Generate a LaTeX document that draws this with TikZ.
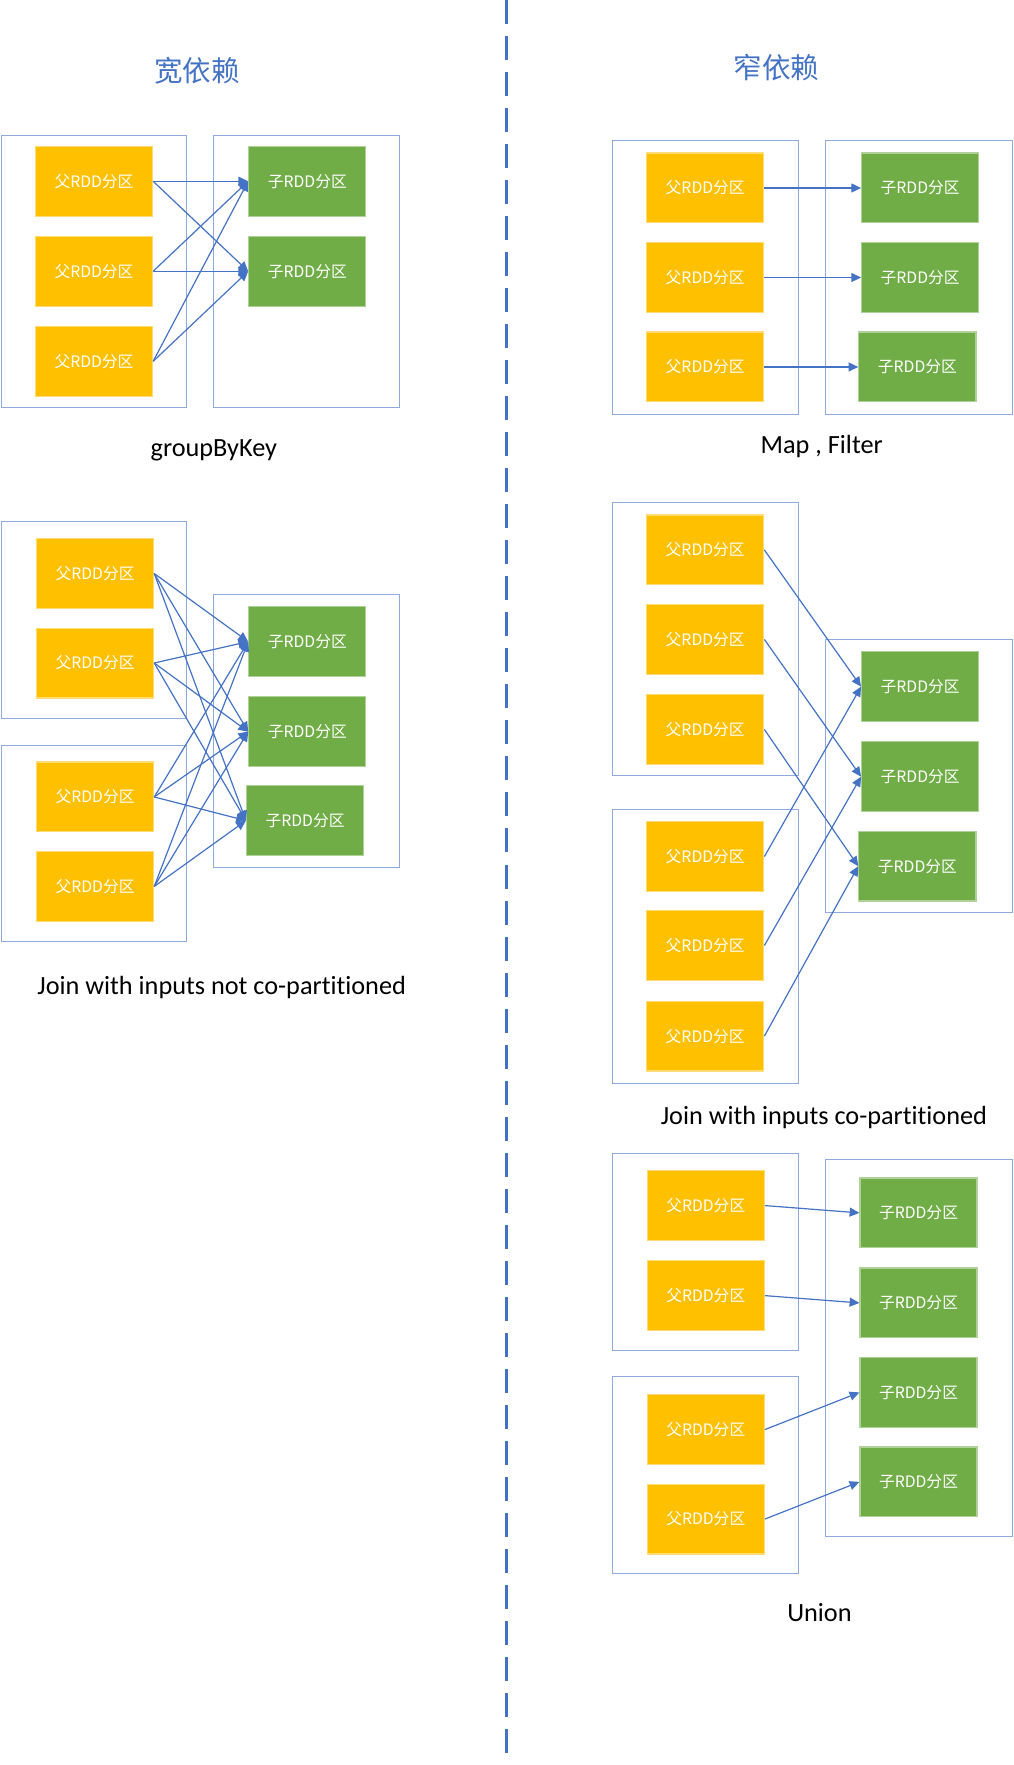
\documentclass[tikz,border=0pt]{standalone}
\usepackage{fontspec}
\setmainfont{Carlito}[Ligatures=NoCommon]
\newfontfamily\cjk{Noto Sans CJK SC}
\usetikzlibrary{arrows.meta}
\definecolor{parfill}{HTML}{FFC000}
\definecolor{kidfill}{HTML}{70AD47}
\definecolor{linkblue}{HTML}{4472C4}
\definecolor{frameblue}{HTML}{8FAADC}
\begin{document}
\begin{tikzpicture}[x=0.75pt,y=-0.75pt,
	par/.style={fill=parfill,draw=parfill!55!white,line width=0.8pt,minimum width=78pt,minimum height=46.5pt,inner sep=0pt,text=white,font=\cjk\fontsize{10.5}{12}\selectfont},
	kid/.style={par,fill=kidfill,draw=kidfill!55!white},
	frame/.style={draw=frameblue,line width=0.6pt},
	arr/.style={draw=linkblue,line width=0.8pt,-{Triangle[length=6.5pt,width=6pt]}},
	caption/.style={font=\fontsize{17.5}{20}\selectfont},
	title/.style={text=linkblue,font=\cjk\fontsize{19}{22}\selectfont}]
	\useasboundingbox (0,0) rectangle (900,1568);
	\draw[linkblue,line width=1.5pt,dash pattern=on 16pt off 8pt] (450,0) -- (450,1568);
	\node[title] (wide) at (175,63) {宽依赖};
	\node[title] (narrow) at (690,60) {窄依赖};
	% groupByKey
		\draw[frame] (1,120) rectangle (166,362);
		\draw[frame] (190,120) rectangle (355,362);
		\node[par] (a1) at (83.5,161) {父RDD分区};
		\node[par] (a2) at (83.5,241) {父RDD分区};
		\node[par] (a3) at (83.5,321) {父RDD分区};
		\node[kid] (b1) at (273,161) {子RDD分区};
		\node[kid] (b2) at (273,241) {子RDD分区};
		\draw[arr] (a1.east) -- (b1.west);
		\draw[arr] (a1.east) -- (b2.west);
		\draw[arr] (a2.east) -- (b1.west);
		\draw[arr] (a2.east) -- (b2.west);
		\draw[arr] (a3.east) -- (b1.west);
		\draw[arr] (a3.east) -- (b2.west);
		\node[caption] (gbk) at (190,400) {groupByKey};
	% Map , Filter
		\draw[frame] (544,125) rectangle (709.5,368);
		\draw[frame] (733.5,125) rectangle (899,368);
		\node[par] (m1) at (626.5,167) {父RDD分区};
		\node[par] (m2) at (626.5,246.5) {父RDD分区};
		\node[par] (m3) at (626.5,326) {父RDD分区};
		\node[kid] (n1) at (817.5,167) {子RDD分区};
		\node[kid] (n2) at (817.5,246.5) {子RDD分区};
		\node[kid] (n3) at (815,326) {子RDD分区};
		\draw[arr] (m1.east) -- (n1.west);
		\draw[arr] (m2.east) -- (n2.west);
		\draw[arr] (m3.east) -- (n3.west);
		\node[caption] (mf) at (730,397) {Map , Filter};
	% join, not co-partitioned
		\draw[frame] (1,463.5) rectangle (166,638);
		\draw[frame] (1,662) rectangle (166,836);
		\draw[frame] (189.5,528) rectangle (355,771);
		\node[par] (j1) at (84.5,509.5) {父RDD分区};
		\node[par] (j2) at (84.5,589) {父RDD分区};
		\node[par] (j3) at (84.5,708) {父RDD分区};
		\node[par] (j4) at (84.5,787.5) {父RDD分区};
		\node[kid] (k1) at (273,570) {子RDD分区};
		\node[kid] (k2) at (273,650) {子RDD分区};
		\node[kid] (k3) at (271,729) {子RDD分区};
		\draw[arr] (j1.east) -- (k1.west);
		\draw[arr] (j1.east) -- (k2.west);
		\draw[arr] (j1.east) -- (k3.west);
		\draw[arr] (j2.east) -- (k1.west);
		\draw[arr] (j2.east) -- (k2.west);
		\draw[arr] (j2.east) -- (k3.west);
		\draw[arr] (j3.east) -- (k1.west);
		\draw[arr] (j3.east) -- (k2.west);
		\draw[arr] (j3.east) -- (k3.west);
		\draw[arr] (j4.east) -- (k1.west);
		\draw[arr] (j4.east) -- (k2.west);
		\draw[arr] (j4.east) -- (k3.west);
		\node[caption] (jn) at (197,877) {Join with inputs not co-partitioned};
	% join, co-partitioned
		\draw[frame] (544,446.5) rectangle (709.5,689);
		\draw[frame] (544,719) rectangle (709.5,962.5);
		\draw[frame] (733.5,568) rectangle (899,811);
		\node[par] (q1) at (626.5,488.5) {父RDD分区};
		\node[par] (q2) at (626.5,568) {父RDD分区};
		\node[par] (q3) at (626.5,648) {父RDD分区};
		\node[par] (q4) at (626.5,761) {父RDD分区};
		\node[par] (q5) at (626.5,840) {父RDD分区};
		\node[par] (q6) at (626.5,920.5) {父RDD分区};
		\node[kid] (r1) at (817.5,610) {子RDD分区};
		\node[kid] (r2) at (817.5,690) {子RDD分区};
		\node[kid] (r3) at (815,769.5) {子RDD分区};
		\draw[arr] (q1.east) -- (r1.west);
		\draw[arr] (q2.east) -- (r2.west);
		\draw[arr] (q3.east) -- (r3.west);
		\draw[arr] (q4.east) -- (r1.west);
		\draw[arr] (q5.east) -- (r2.west);
		\draw[arr] (q6.east) -- (r3.west);
		\node[caption] (jc) at (732,993) {Join with inputs co-partitioned};
	% Union
		\draw[frame] (544,1025) rectangle (709.5,1200);
		\draw[frame] (544,1223) rectangle (709.5,1398);
		\draw[frame] (733.5,1030) rectangle (899,1364.5);
		\node[par] (u1) at (627,1071) {父RDD分区};
		\node[par] (u2) at (627,1151) {父RDD分区};
		\node[par] (u3) at (627,1270) {父RDD分区};
		\node[par] (u4) at (627,1349.5) {父RDD分区};
		\node[kid] (v1) at (816,1077.5) {子RDD分区};
		\node[kid] (v2) at (816,1157.5) {子RDD分区};
		\node[kid] (v3) at (816,1237) {子RDD分区};
		\node[kid] (v4) at (816,1316.5) {子RDD分区};
		\draw[arr] (u1.east) -- (v1.west);
		\draw[arr] (u2.east) -- (v2.west);
		\draw[arr] (u3.east) -- (v3.west);
		\draw[arr] (u4.east) -- (v4.west);
		\node[caption] (un) at (728,1433) {Union};
\end{tikzpicture}
\end{document}
